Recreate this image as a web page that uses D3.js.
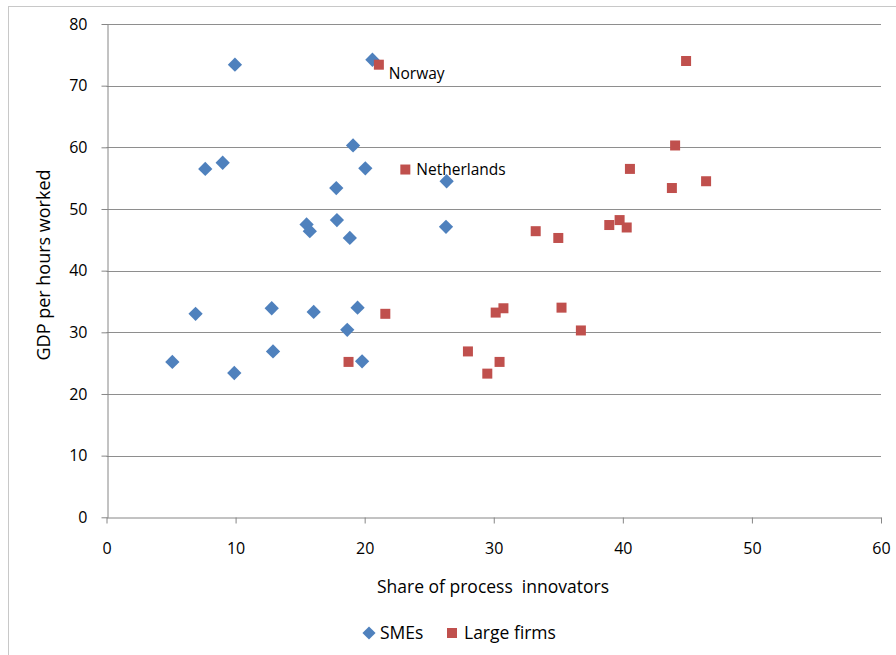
<!DOCTYPE html>
<html>
<head>
<meta charset="utf-8">
<script src="https://cdn.jsdelivr.net/npm/d3@7"></script>
<style>
  html, body { margin: 0; padding: 0; background: #fff; }
  svg { display: block; font-family: "Open Sans", Lato, sans-serif; }
</style>
</head>
<body>
<svg id="chart" width="896" height="655"></svg>
<script>
// Share of process innovators (x) vs GDP per hour worked (y)
const smeX = [20.6, 9.95, 7.65, 9.0, 19.1, 20.05, 17.8, 26.35, 15.5, 15.75, 17.85, 18.85, 26.3,
              5.1, 6.9, 9.9, 12.8, 12.9, 16.05, 19.45, 18.65, 19.8];
const smeY = [74.2, 73.4, 56.5, 57.5, 60.3, 56.6, 53.4, 54.5, 47.5, 46.4, 48.2, 45.3, 47.1,
              25.2, 33.0, 23.4, 33.9, 26.9, 33.3, 34.0, 30.4, 25.3];

const largeX = [21.1, 23.15, 44.9, 44.05, 40.55, 43.8, 46.45, 38.95, 39.75, 40.3, 33.25, 35.0,
                21.6, 18.75, 30.15, 30.75, 35.25, 36.75, 28.0, 30.45, 29.5];
const largeY = [73.4, 56.4, 74.0, 60.3, 56.5, 53.4, 54.5, 47.4, 48.2, 47.0, 46.4, 45.3,
                33.0, 25.2, 33.2, 33.9, 34.0, 30.3, 26.9, 25.2, 23.3];

// Named countries among the large-firm points (index into largeX/largeY)
const labelNames = ["Norway", "Netherlands"];
const labelIndex = [0, 1];

const xTicks = [0, 10, 20, 30, 40, 50, 60];
const yTicks = [0, 10, 20, 30, 40, 50, 60, 70, 80];

const seriesNames = ["SMEs", "Large firms"];
const seriesColors = ["#4F81BD", "#C0504D"];

const FONT = "'Open Sans', Lato, sans-serif";
const svg = d3.select("#chart");

// Outer chart frame
svg.append("rect")
  .attr("x", 8.5).attr("y", 6.5)
  .attr("width", 900).attr("height", 660)
  .attr("fill", "none").attr("stroke", "#c8c8c8").attr("stroke-width", 1);

const x = d3.scaleLinear().domain([0, 60]).range([106.5, 881]);
const y = d3.scaleLinear().domain([0, 80]).range([517.3, 24]);

// Horizontal gridlines
svg.append("g")
  .selectAll("line")
  .data(yTicks.filter(t => t > 0))
  .join("line")
  .attr("x1", x(0)).attr("x2", x(60))
  .attr("y1", d => Math.round(y(d)) + 0.5).attr("y2", d => Math.round(y(d)) + 0.5)
  .attr("stroke", "#8e8e8e").attr("stroke-width", 1);

// Y axis
const yAxis = svg.append("g")
  .attr("transform", `translate(${Math.round(x(0)) + 0.5},0)`)
  .call(d3.axisLeft(y).tickValues(yTicks).tickSize(6).tickPadding(14).tickSizeOuter(0));
yAxis.select(".domain").attr("stroke", "#868686");
yAxis.selectAll(".tick line").attr("stroke", "#868686");
yAxis.selectAll(".tick text").attr("fill", "#000").style("font-size", "16px")
  .style("font-family", FONT);

// X axis
const xAxis = svg.append("g")
  .attr("transform", `translate(0,${Math.round(y(0)) + 0.5})`)
  .call(d3.axisBottom(x).tickValues(xTicks).tickSize(6).tickPadding(19).tickSizeOuter(0));
xAxis.select(".domain").attr("stroke", "#868686");
xAxis.selectAll(".tick line").attr("stroke", "#868686");
xAxis.selectAll(".tick text").attr("fill", "#000").style("font-size", "16px")
  .style("font-family", FONT);

// Axis titles
svg.append("text")
  .attr("x", 493).attr("y", 593)
  .attr("text-anchor", "middle")
  .attr("xml:space", "preserve")
  .style("white-space", "pre")
  .style("font-size", "17.5px")
  .text("Share of process  innovators");

svg.append("text")
  .attr("transform", "translate(50,265) rotate(-90)")
  .attr("text-anchor", "middle")
  .style("font-size", "18px")
  .text("GDP per hours worked");

// Markers
const diamond = d3.symbol().type(d3.symbolDiamond2).size(130);
const sme = smeX.map((v, i) => ({ x: v, y: smeY[i] }));
const large = largeX.map((v, i) => ({ x: v, y: largeY[i] }));

svg.append("g")
  .selectAll("path")
  .data(sme)
  .join("path")
  .attr("d", diamond)
  .attr("transform", d => `translate(${x(d.x)},${y(d.y)})`)
  .attr("fill", seriesColors[0]);

const sq = 10;
svg.append("g")
  .selectAll("rect")
  .data(large)
  .join("rect")
  .attr("x", d => x(d.x) - sq / 2).attr("y", d => y(d.y) - sq / 2)
  .attr("width", sq).attr("height", sq)
  .attr("fill", seriesColors[1]);

// Country labels
const labelDx = [10, 11];
const labelDy = [14, 5];
svg.append("g")
  .selectAll("text")
  .data(labelNames)
  .join("text")
  .attr("x", (d, i) => x(largeX[labelIndex[i]]) + labelDx[i])
  .attr("y", (d, i) => y(largeY[labelIndex[i]]) + labelDy[i])
  .style("font-size", "15.5px")
  .text(d => d);

// Legend
const legend = svg.append("g");
legend.append("path")
  .attr("d", d3.symbol().type(d3.symbolDiamond2).size(110))
  .attr("transform", "translate(369,633)")
  .attr("fill", seriesColors[0]);
legend.append("text")
  .attr("x", 380).attr("y", 639)
  .style("font-size", "17.5px")
  .text(seriesNames[0]);
legend.append("rect")
  .attr("x", 447).attr("y", 628).attr("width", 10).attr("height", 10)
  .attr("fill", seriesColors[1]);
legend.append("text")
  .attr("x", 464).attr("y", 639)
  .style("font-size", "17.5px")
  .text(seriesNames[1]);
</script>
</body>
</html>
